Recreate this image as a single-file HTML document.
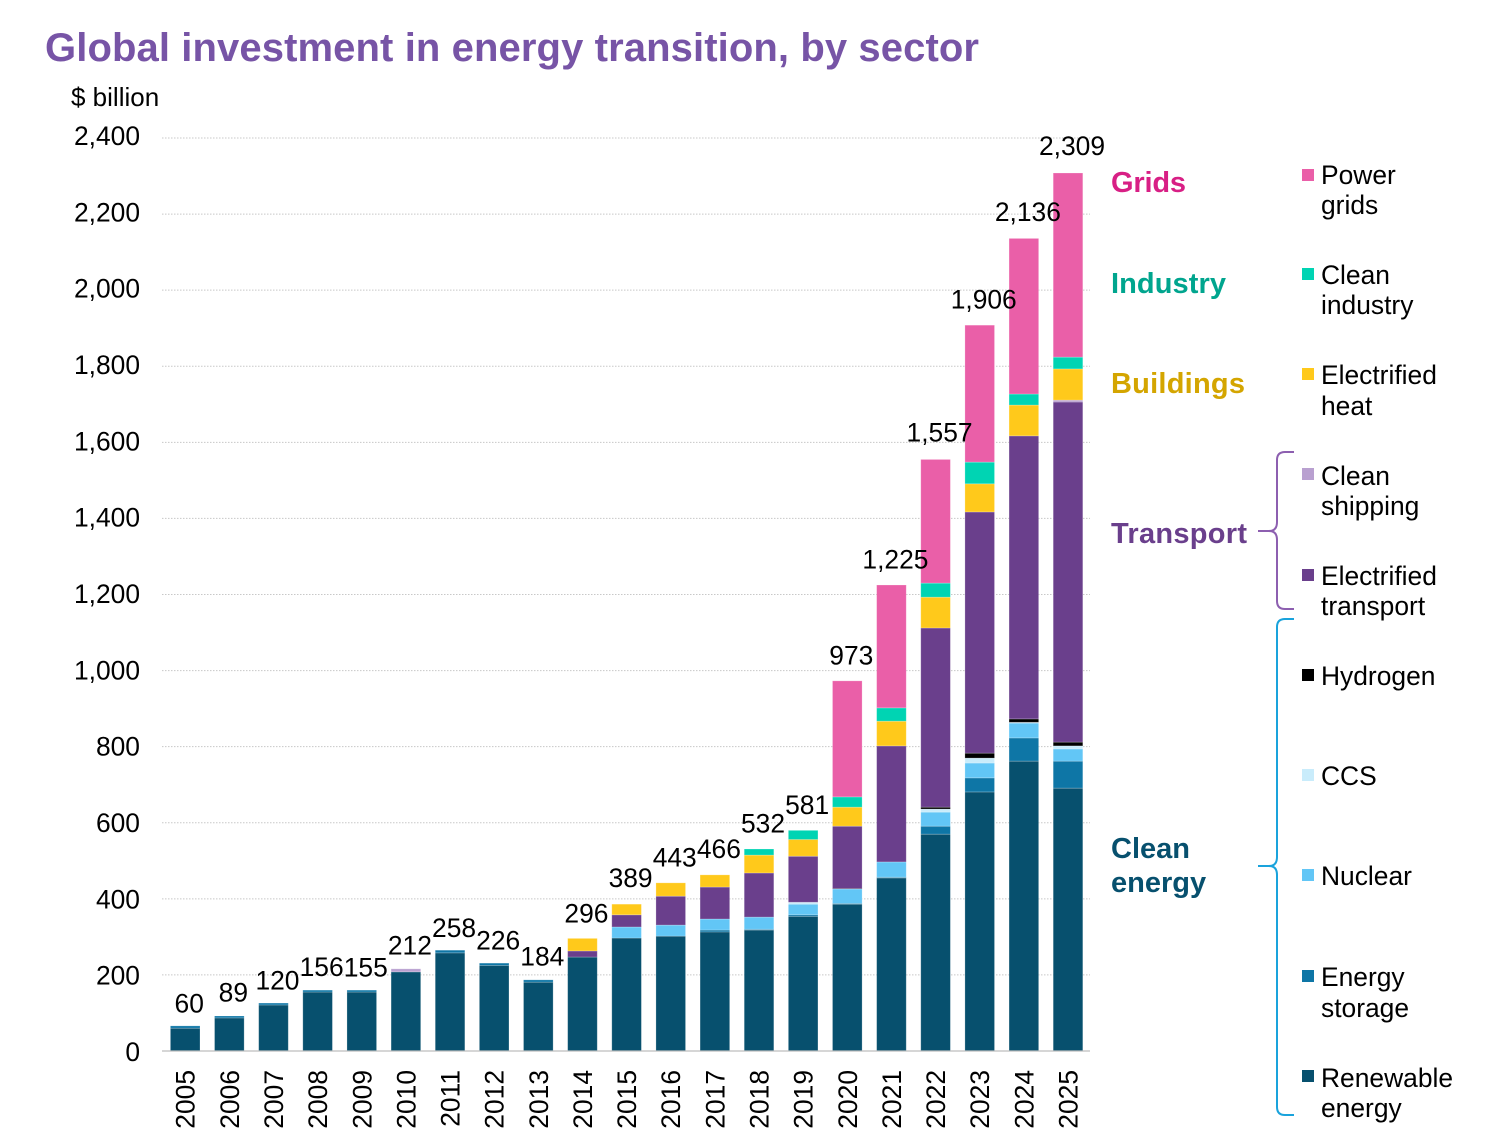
<!DOCTYPE html>
<html lang="en">
<head>
<meta charset="utf-8">
<title>Global investment in energy transition, by sector</title>
<style>
html,body{margin:0;padding:0;background:#fff;width:1508px;height:1146px;overflow:hidden}
svg{display:block}
text{font-family:"Liberation Sans",Arial,sans-serif;fill:#000}
.tick,.year,.total,.legend{font-size:26.4px}
.group{font-size:29px;font-weight:bold}
</style>
</head>
<body>
<svg id="chart" width="1508" height="1146" viewBox="0 0 1508 1146" xmlns="http://www.w3.org/2000/svg">
  <text x="45" y="61" font-size="40" font-weight="bold" textLength="934" lengthAdjust="spacing" style="fill:#7754a6">Global investment in energy transition, by sector</text>
  <text x="71" y="106" font-size="26">$ billion</text>
  <g id="grid"></g>
  <g id="bars"></g>
  <g id="axis"></g>
  <g id="totals"></g>

  <g>
    <text class="group" x="1111" y="192" textLength="75" lengthAdjust="spacing" style="fill:#d81f85">Grids</text>
    <text class="group" x="1111" y="293" textLength="115" lengthAdjust="spacing" style="fill:#00a58e">Industry</text>
    <text class="group" x="1111" y="393" textLength="134" lengthAdjust="spacing" style="fill:#d4a500">Buildings</text>
    <text class="group" x="1111" y="543" textLength="136" lengthAdjust="spacing" style="fill:#6a3f8c">Transport</text>
    <text class="group" x="1111" y="858" style="fill:#07506e">Clean</text>
    <text class="group" x="1111" y="892" style="fill:#07506e">energy</text>
  </g>

  <path fill="none" stroke="#8d5fb0" stroke-width="2" d="M1294 452 H1285 Q1277 452 1277 460 V522 Q1277 531 1269 531 H1258 M1269 531 Q1277 531 1277 540 V601 Q1277 609 1285 609 H1294"/>
  <path fill="none" stroke="#1aa3dc" stroke-width="2" d="M1294 619 H1285 Q1277 619 1277 627 V857 Q1277 866 1269 866 H1258 M1269 866 Q1277 866 1277 875 V1107 Q1277 1115 1285 1115 H1294"/>

  <g>
    <g>
      <rect x="1302" y="169" width="12" height="12" fill="#ea5fa8"/>
      <text class="legend" x="1321" y="184">Power</text><text class="legend" x="1321" y="214">grids</text>
    </g>
    <g>
      <rect x="1302" y="268" width="12" height="12" fill="#00d4b3"/>
      <text class="legend" x="1321" y="284">Clean</text><text class="legend" x="1321" y="314">industry</text>
    </g>
    <g>
      <rect x="1302" y="368" width="12" height="12" fill="#ffc91b"/>
      <text class="legend" x="1321" y="384">Electrified</text><text class="legend" x="1321" y="415">heat</text>
    </g>
    <g>
      <rect x="1302" y="468" width="12" height="12" fill="#b9a0d0"/>
      <text class="legend" x="1321" y="485">Clean</text><text class="legend" x="1321" y="515">shipping</text>
    </g>
    <g>
      <rect x="1302" y="569" width="12" height="12" fill="#6a3f8c"/>
      <text class="legend" x="1321" y="585">Electrified</text><text class="legend" x="1321" y="615">transport</text>
    </g>
    <g>
      <rect x="1302" y="669" width="12" height="12" fill="#000"/>
      <text class="legend" x="1321" y="685">Hydrogen</text>
    </g>
    <g>
      <rect x="1302" y="769" width="12" height="12" fill="#c9ecfb"/>
      <text class="legend" x="1321" y="785">CCS</text>
    </g>
    <g>
      <rect x="1302" y="869" width="12" height="12" fill="#62c6f6"/>
      <text class="legend" x="1321" y="885">Nuclear</text>
    </g>
    <g>
      <rect x="1302" y="970" width="12" height="12" fill="#0e76a6"/>
      <text class="legend" x="1321" y="986">Energy</text><text class="legend" x="1321" y="1017">storage</text>
    </g>
    <g>
      <rect x="1302" y="1070" width="12" height="12" fill="#07506e"/>
      <text class="legend" x="1321" y="1087">Renewable</text><text class="legend" x="1321" y="1117">energy</text>
    </g>
  </g>
</svg>

<script>
const years = [2005,2006,2007,2008,2009,2010,2011,2012,2013,2014,2015,2016,2017,2018,2019,2020,2021,2022,2023,2024,2025];
const totalLabels = [60,89,120,156,155,212,258,226,184,296,389,443,466,532,581,973,1225,1557,1906,2136,2309];
const yTicks = [0,200,400,600,800,1000,1200,1400,1600,1800,2000,2200,2400];

const renewable  = [60,87,121,155,155,208,258,225,181,247,297,302,313,318,354,386,455,570,681,762,691];
const storage    = [6,5,5,5,5,0,7,6,6,0,0,0,5,2,4,2,2,21,37,61,71];
const nuclear    = [0,0,0,0,0,0,0,0,0,0,29,29,29,32,28,38,40,37,39,39,32];
const ccs        = [0,0,0,0,0,0,0,0,0,0,0,0,0,0,5,0,0,8,13,2,8];
const hydrogen   = [0,0,0,0,0,0,0,0,0,0,0,0,0,0,0,1,0,5,13,9,10];
const transport  = [0,0,0,0,0,0,0,0,0,16,32,76,84,116,121,164,305,471,634,744,894];
const shipping   = [0,0,0,0,0,8,0,0,0,0,0,0,0,0,0,0,0,0,0,0,5];
const heat       = [0,0,0,0,0,0,0,0,0,33,28,35,32,47,44,50,65,81,74,81,82];
const industry   = [0,0,0,0,0,0,0,0,0,0,0,0,0,16,24,27,35,37,57,29,31];
const grids      = [0,0,0,0,0,0,0,0,0,0,0,0,0,0,0,305,323,325,360,409,484];

const seriesNames = ['renewable','storage','nuclear','ccs','hydrogen','transport','shipping','heat','industry','grids'];
const seriesValues = [renewable,storage,nuclear,ccs,hydrogen,transport,shipping,heat,industry,grids];
const seriesColors = ['#07506e','#0e76a6','#62c6f6','#c9ecfb','#000000','#6a3f8c','#b9a0d0','#ffc91b','#00d4b3','#ea5fa8'];

const NS = 'http://www.w3.org/2000/svg';
const yScale = v => 1051 - v * (913 / 2400);
const labelScale = v => 1061 - v * (916 / 2400);
const xScale = i => 185.2 + i * 44.14;
const barWidth = 29.6;

function make(tag, attrs, parent) {
  const el = document.createElementNS(NS, tag);
  for (const k in attrs) el.setAttribute(k, attrs[k]);
  parent.appendChild(el);
  return el;
}

const gridG = document.getElementById('grid');
const barsG = document.getElementById('bars');
const axisG = document.getElementById('axis');
const totalsG = document.getElementById('totals');

yTicks.forEach(t => {
  if (t > 0) {
    const line = make('line', {x1:162, x2:1090, y1:yScale(t), y2:yScale(t), stroke:'#c8c8c8', 'stroke-width':1, 'stroke-dasharray':'1.5 1.5'}, gridG);
    
    
  }
  const label = make('text', {x:140, y:labelScale(t), 'text-anchor':'end', class:'tick'}, axisG);
  label.textContent = t.toLocaleString('en-US');
  
  
});

years.forEach((year, i) => {
  let cum = 0;
  seriesValues.forEach((vals, s) => {
    const v = vals[i];
    if (v > 0) {
      const top = yScale(cum + v);
      const rect = make('rect', {x:xScale(i) - barWidth / 2, y:top, width:barWidth, height:yScale(cum) - top, fill:seriesColors[s], stroke:'rgba(255,255,255,0.28)', 'stroke-width':0.8}, barsG);
      
      
    }
    cum += v;
  });

  const total = make('text', {x:xScale(i) + 4, y:yScale(totalLabels[i]) - 15.5 - totalLabels[i] * 0.001, 'text-anchor':'middle', class:'total'}, totalsG);
  total.textContent = totalLabels[i].toLocaleString('en-US');
  
  

  const yl = make('text', {transform:'translate(' + (xScale(i) + 9.5) + ',1070) rotate(-90)', 'text-anchor':'end', class:'year'}, axisG);
  yl.textContent = year;
  
  
});

const baseLine = make('line', {x1:162, x2:1090, y1:1051, y2:1051, stroke:'#bdbdbd', 'stroke-width':1.2}, axisG);


</script>
</body>
</html>
